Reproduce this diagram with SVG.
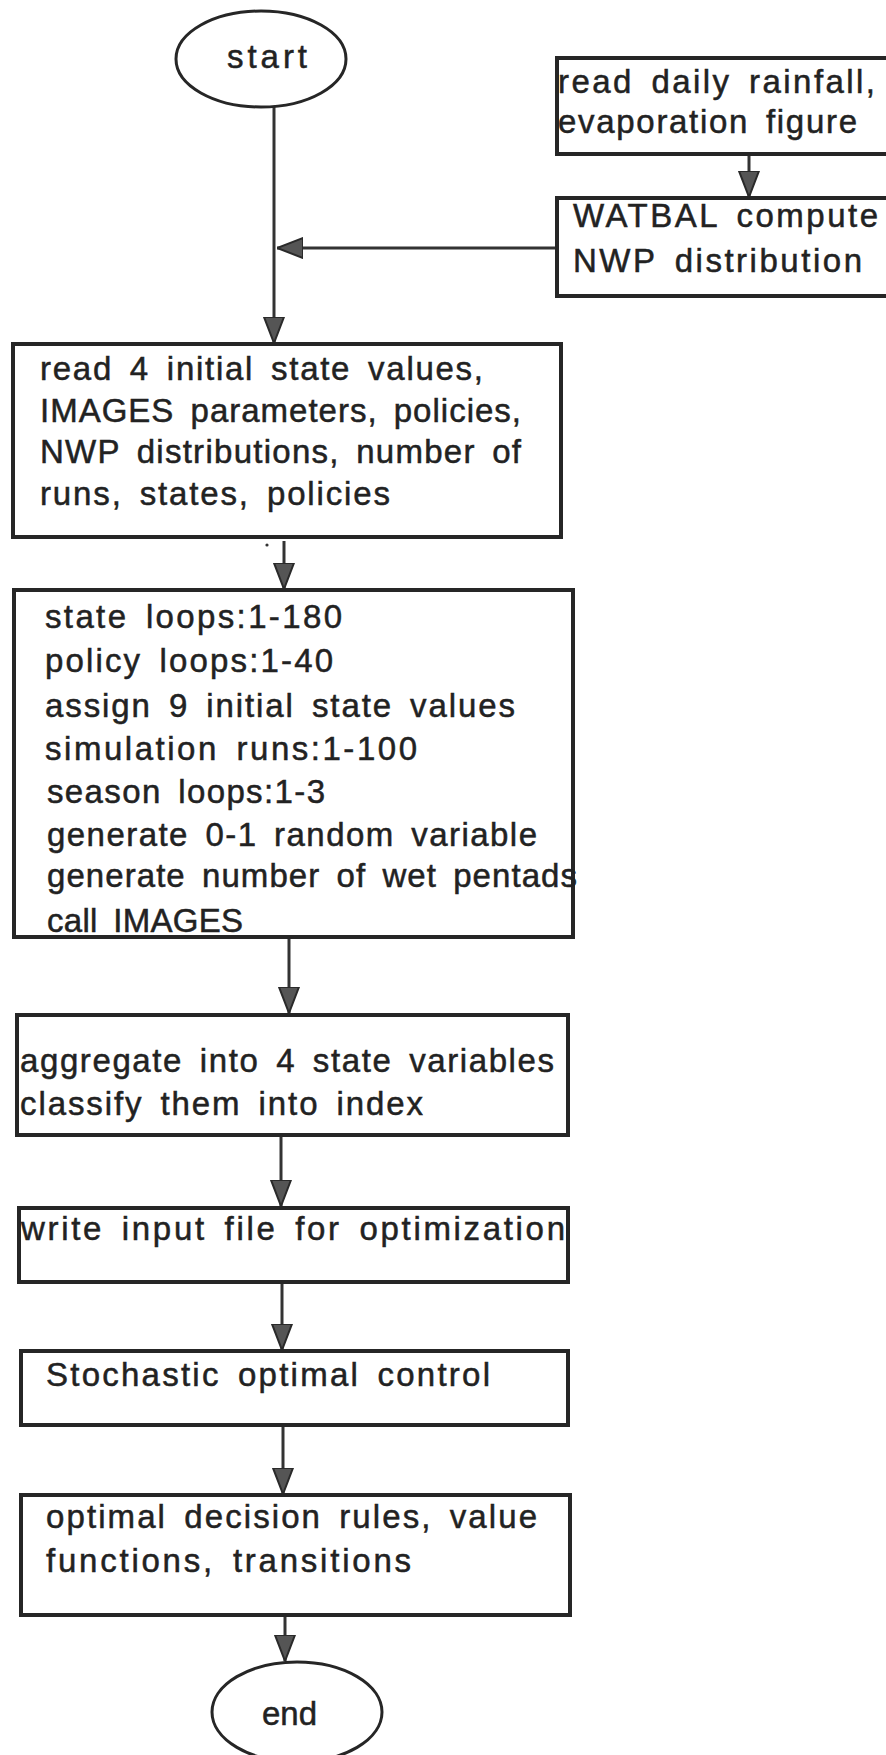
<svg xmlns="http://www.w3.org/2000/svg" width="886" height="1755" viewBox="0 0 886 1755">
  <style>
    .box { fill: #ffffff; stroke: #262626; stroke-width: 4; }
    .term { fill: #ffffff; stroke: #262626; stroke-width: 3; }
    .lbl { font-family: "Liberation Sans", Arial, Helvetica, sans-serif; font-size: 33px; fill: #222222; stroke: #222222; stroke-width: 0.5; word-spacing: 6px; }
    .wire { fill: none; stroke: #333333; stroke-width: 3; }
  </style>
  <defs>
    <marker id="arrow" viewBox="0 0 26 22" refX="26" refY="11" markerWidth="26" markerHeight="22" markerUnits="userSpaceOnUse" orient="auto">
      <path d="M0,1 L26,11 L0,21 Z" fill="#555555" stroke="#2a2a2a" stroke-width="2"/>
    </marker>
  </defs>

  <rect width="886" height="1755" fill="#ffffff"/>

  <!-- connectors -->
  <g id="connectors">
    <line class="wire" x1="274" y1="106" x2="274" y2="343" marker-end="url(#arrow)"/>
    <line class="wire" x1="749" y1="154" x2="749" y2="197" marker-end="url(#arrow)"/>
    <line class="wire" x1="557" y1="248" x2="277" y2="248" marker-end="url(#arrow)"/>
    <line class="wire" x1="284" y1="541" x2="284" y2="589" marker-end="url(#arrow)"/>
    <circle cx="267" cy="545" r="1.6" fill="#333333"/>
    <line class="wire" x1="289" y1="938" x2="289" y2="1013" marker-end="url(#arrow)"/>
    <line class="wire" x1="281" y1="1135" x2="281" y2="1206" marker-end="url(#arrow)"/>
    <line class="wire" x1="282" y1="1282" x2="282" y2="1350" marker-end="url(#arrow)"/>
    <line class="wire" x1="283" y1="1425" x2="283" y2="1494" marker-end="url(#arrow)"/>
    <line class="wire" x1="285" y1="1615" x2="285" y2="1661" marker-end="url(#arrow)"/>
  </g>

  <!-- start terminal -->
  <g id="start">
    <ellipse class="term" cx="261" cy="59" rx="85" ry="48"/>
    <text class="lbl" x="227" y="68" textLength="80" lengthAdjust="spacing">start</text>
  </g>

  <!-- rainfall input -->
  <g id="read-rainfall">
    <rect class="box" x="557" y="58" width="345" height="96"/>
    <text class="lbl" x="558" y="93" textLength="317" lengthAdjust="spacing">read daily rainfall,</text>
    <text class="lbl" x="558" y="133" textLength="299" lengthAdjust="spacing">evaporation figure</text>
  </g>

  <!-- water balance -->
  <g id="watbal">
    <rect class="box" x="557" y="198" width="345" height="98"/>
    <text class="lbl" x="573" y="227" textLength="305" lengthAdjust="spacing">WATBAL compute</text>
    <text class="lbl" x="573" y="272" textLength="289" lengthAdjust="spacing">NWP distribution</text>
  </g>

  <!-- initial reading -->
  <g id="read-inputs">
    <rect class="box" x="13" y="344" width="548" height="193"/>
    <text class="lbl" x="40" y="380" textLength="443" lengthAdjust="spacing">read 4 initial state values,</text>
    <text class="lbl" x="40" y="422" textLength="481" lengthAdjust="spacing">IMAGES parameters, policies,</text>
    <text class="lbl" x="40" y="463" textLength="481" lengthAdjust="spacing">NWP distributions, number of</text>
    <text class="lbl" x="40" y="505" textLength="350" lengthAdjust="spacing">runs, states, policies</text>
  </g>

  <!-- simulation loops -->
  <g id="loops">
    <rect class="box" x="14" y="590" width="559" height="347"/>
    <text class="lbl" x="45" y="628" textLength="297" lengthAdjust="spacing">state loops:1-180</text>
    <text class="lbl" x="45" y="672" textLength="288" lengthAdjust="spacing">policy loops:1-40</text>
    <text class="lbl" x="45" y="717" textLength="470" lengthAdjust="spacing">assign 9 initial state values</text>
    <text class="lbl" x="45" y="760" textLength="372" lengthAdjust="spacing">simulation runs:1-100</text>
    <text class="lbl" x="47" y="803" textLength="278" lengthAdjust="spacing">season loops:1-3</text>
    <text class="lbl" x="47" y="846" textLength="490" lengthAdjust="spacing">generate 0-1 random variable</text>
    <text class="lbl" x="47" y="887" textLength="530" lengthAdjust="spacing">generate number of wet pentads</text>
    <text class="lbl" x="47" y="932" textLength="196" lengthAdjust="spacing">call IMAGES</text>
  </g>

  <!-- aggregation -->
  <g id="aggregate">
    <rect class="box" x="17" y="1015" width="551" height="120"/>
    <text class="lbl" x="20" y="1072" textLength="534" lengthAdjust="spacing">aggregate into 4 state variables</text>
    <text class="lbl" x="20" y="1115" textLength="403" lengthAdjust="spacing">classify them into index</text>
  </g>

  <!-- optimisation input -->
  <g id="write-input">
    <rect class="box" x="19" y="1208" width="549" height="74"/>
    <text class="lbl" x="21" y="1240" textLength="544" lengthAdjust="spacing">write input file for optimization</text>
  </g>

  <!-- optimal control -->
  <g id="stochastic">
    <rect class="box" x="21" y="1351" width="547" height="74"/>
    <text class="lbl" x="46" y="1386" textLength="444" lengthAdjust="spacing">Stochastic optimal control</text>
  </g>

  <!-- results -->
  <g id="results">
    <rect class="box" x="21" y="1495" width="549" height="120"/>
    <text class="lbl" x="46" y="1528" textLength="491" lengthAdjust="spacing">optimal decision rules, value</text>
    <text class="lbl" x="46" y="1572" textLength="365" lengthAdjust="spacing">functions, transitions</text>
  </g>

  <!-- end terminal -->
  <g id="end">
    <ellipse class="term" cx="297" cy="1712" rx="85" ry="50"/>
    <text class="lbl" x="262" y="1725" textLength="55" lengthAdjust="spacing">end</text>
  </g>
</svg>
